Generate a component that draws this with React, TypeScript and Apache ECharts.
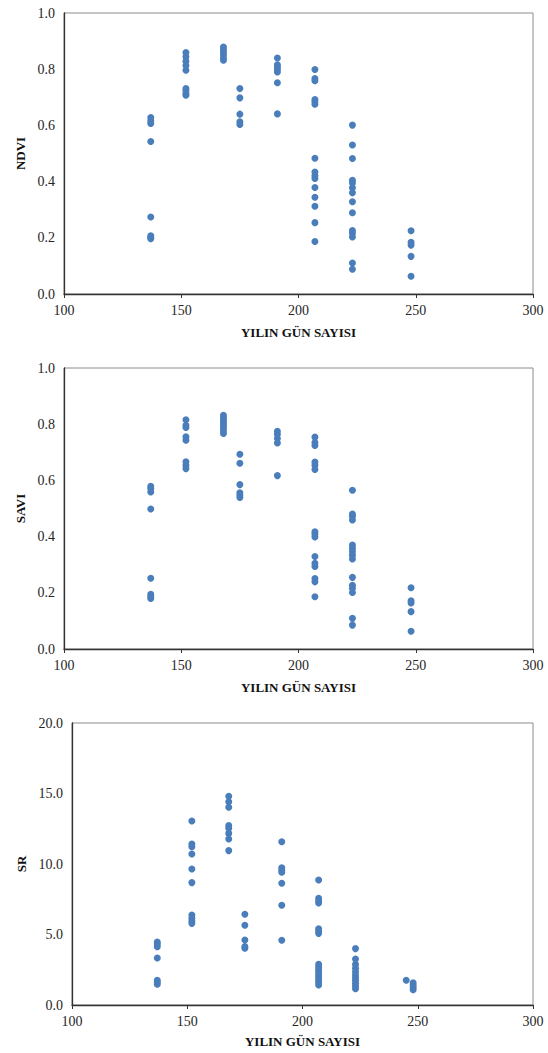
import React, { useEffect, useRef } from "react";
import * as echarts from "echarts";

const xTicks = [100, 150, 200, 250, 300];
const days = [137, 152, 168, 175, 191, 207, 223, 248];
const srDays = [137, 152, 168, 175, 191, 207, 223, 245, 248];

const ndvi: number[][] = [
  [0.628, 0.616, 0.607, 0.543, 0.274, 0.207, 0.201, 0.197],
  [0.859, 0.844, 0.828, 0.813, 0.796, 0.731, 0.723, 0.713, 0.707],
  [0.879, 0.87, 0.861, 0.852, 0.841, 0.832],
  [0.731, 0.698, 0.64, 0.613, 0.603],
  [0.84, 0.816, 0.808, 0.8, 0.79, 0.752, 0.641],
  [0.799, 0.767, 0.759, 0.692, 0.684, 0.675, 0.483, 0.434, 0.421, 0.411, 0.379, 0.344, 0.312, 0.254, 0.187],
  [0.601, 0.53, 0.482, 0.405, 0.395, 0.378, 0.36, 0.328, 0.289, 0.226, 0.216, 0.203, 0.11, 0.088],
  [0.225, 0.184, 0.174, 0.134, 0.063],
];

const savi: number[][] = [
  [0.579, 0.571, 0.559, 0.498, 0.252, 0.195, 0.187, 0.18],
  [0.816, 0.796, 0.788, 0.755, 0.743, 0.666, 0.654, 0.642],
  [0.832, 0.822, 0.814, 0.804, 0.796, 0.787, 0.777, 0.767],
  [0.693, 0.661, 0.585, 0.556, 0.547, 0.539],
  [0.775, 0.764, 0.749, 0.733, 0.617],
  [0.754, 0.735, 0.724, 0.665, 0.654, 0.639, 0.417, 0.409, 0.399, 0.329, 0.305, 0.294, 0.251, 0.239, 0.186],
  [0.565, 0.48, 0.472, 0.459, 0.37, 0.358, 0.346, 0.334, 0.32, 0.255, 0.227, 0.216, 0.201, 0.109, 0.085],
  [0.218, 0.172, 0.164, 0.133, 0.063],
];

const sr: number[][] = [
  [4.47, 4.33, 4.14, 3.33, 1.75, 1.61, 1.47],
  [13.05, 11.42, 11.23, 10.71, 9.65, 8.68, 6.38, 6.15, 5.96, 5.79],
  [14.8, 14.42, 14.02, 12.72, 12.53, 12.17, 11.77, 10.95],
  [6.43, 5.65, 4.61, 4.14, 4.02],
  [11.58, 9.74, 9.57, 9.41, 8.63, 7.07, 4.59],
  [8.87, 7.57, 7.38, 7.23, 5.41, 5.25, 5.08, 2.88, 2.67, 2.48, 2.32, 2.13, 1.96, 1.77, 1.61, 1.42],
  [4.0, 3.26, 2.88, 2.6, 2.36, 2.13, 1.94, 1.75, 1.54, 1.35, 1.16],
  [1.75],
  [1.58, 1.42, 1.25, 1.09],
];

const xTitle = "YILIN GÜN SAYISI";
const yTitles = ["NDVI", "SAVI", "SR"];

function toPoints(ds: number[], vals: number[][]) {
  const out: number[][] = [];
  ds.forEach((d, i) => vals[i].forEach((v) => out.push([d, v])));
  return out;
}

const FONT = "Liberation Serif";
const DOT = "#4a7ebb";

export default function App() {
  const ref = useRef<HTMLDivElement>(null);
  useEffect(() => {
    document.body.style.margin = "0";
    const chart = echarts.init(ref.current!, undefined, { renderer: "svg" });
    const grids = [
      { left: 64, top: 13, width: 469, height: 281 },
      { left: 64, top: 368, width: 469, height: 281 },
      { left: 72, top: 723, width: 461, height: 282 },
    ];
    const yCfg = [
      { min: 0, max: 1, interval: 0.2, dec: 1, gap: 34 },
      { min: 0, max: 1, interval: 0.2, dec: 1, gap: 34 },
      { min: 0, max: 20, interval: 5, dec: 1, gap: 42 },
    ];
    const axisLabel = { fontFamily: FONT, fontSize: 14, color: "#262626" };
    const nameStyle = { fontFamily: FONT, fontSize: 13, fontWeight: "bold", color: "#111" };
    chart.setOption({
      animation: false,
      textStyle: { fontFamily: FONT },
      grid: grids.map((g) => ({ ...g, show: true, borderColor: "#8c8c8c", borderWidth: 1, backgroundColor: "transparent" })),
      xAxis: grids.map((_, i) => ({
        type: "value",
        gridIndex: i,
        min: xTicks[0],
        max: xTicks[xTicks.length - 1],
        interval: xTicks[1] - xTicks[0],
        name: xTitle,
        nameLocation: "middle",
        nameGap: i === 2 ? 30 : 32,
        nameTextStyle: nameStyle,
        axisLine: { show: true, lineStyle: { color: "#333", width: 1.3 } },
        axisTick: { show: true, length: 4, lineStyle: { color: "#333" } },
        axisLabel: { ...axisLabel, margin: 9 },
        splitLine: { show: false },
      })),
      yAxis: yCfg.map((c, i) => ({
        type: "value",
        gridIndex: i,
        min: c.min,
        max: c.max,
        interval: c.interval,
        name: yTitles[i],
        nameLocation: "middle",
        nameGap: c.gap,
        nameTextStyle: nameStyle,
        axisLine: { show: true, lineStyle: { color: "#333", width: 1.3 } },
        axisTick: { show: false },
        axisLabel: { ...axisLabel, margin: 9, formatter: (v: number) => v.toFixed(c.dec) },
        splitLine: { show: false },
      })),
      series: [
        { data: toPoints(days, ndvi) },
        { data: toPoints(days, savi) },
        { data: toPoints(srDays, sr) },
      ].map((s, i) => ({
        type: "scatter",
        xAxisIndex: i,
        yAxisIndex: i,
        data: s.data,
        symbolSize: 7,
        itemStyle: { color: DOT, opacity: 1 },
      })),
    });
    return () => chart.dispose();
  }, []);
  return <div ref={ref} style={{ width: 548, height: 1053, background: "#fff" }} />;
}
